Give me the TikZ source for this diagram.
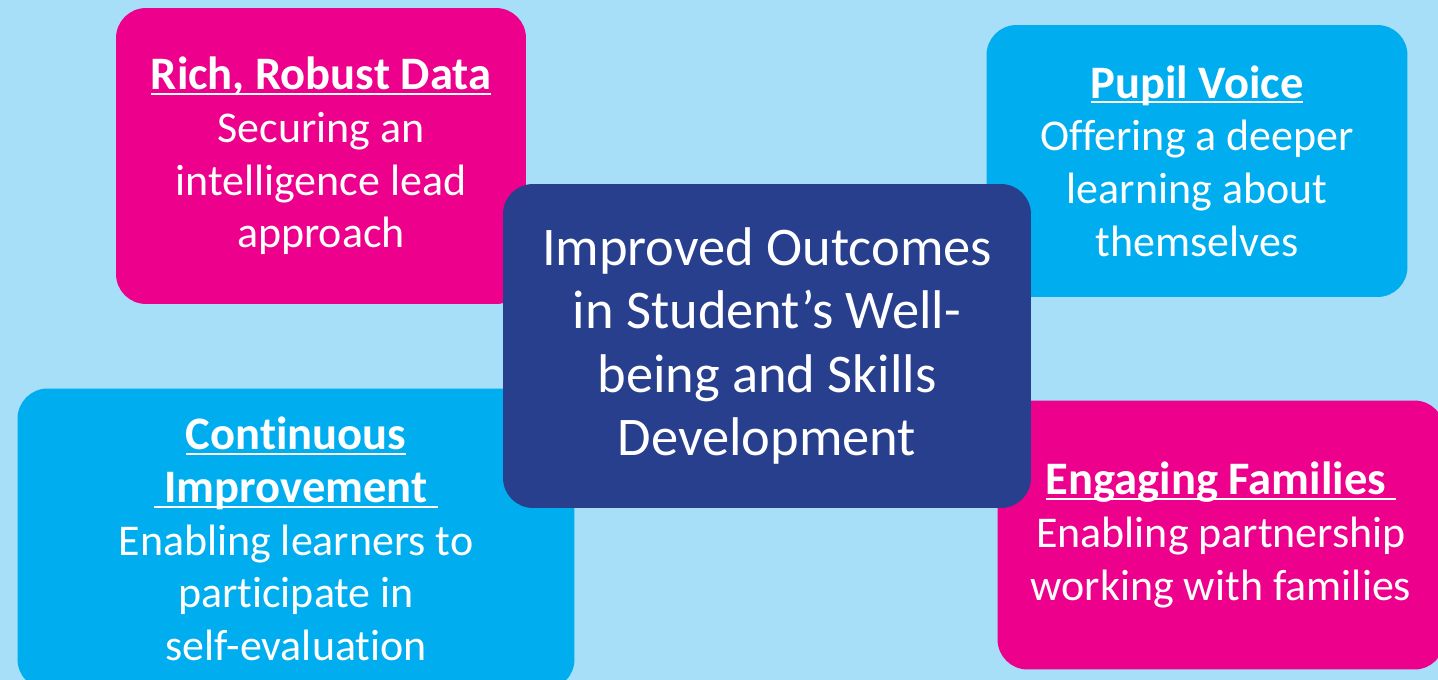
\documentclass[tikz,border=0pt]{standalone}
\usepackage{fontspec}
\setmainfont[Ligatures=NoCommon]{Carlito}
\usetikzlibrary{positioning}
\definecolor{skyback}{HTML}{A7DEF8}
\definecolor{hotpink}{HTML}{EC008C}
\definecolor{brightcyan}{HTML}{00AEEF}
\definecolor{deepnavy}{HTML}{283F8E}
% bold heading with a thin rule just under the baseline
\newcommand{\boxhead}[1]{\setbox0\hbox{\fontsize{26.5}{30}\selectfont\bfseries #1}\rlap{\rule[-3pt]{\wd0}{1.1pt}}\box0}

\begin{document}
\begin{tikzpicture}[
        x=0.02cm, y=-0.02cm,
        every node/.style={rectangle, rounded corners=0.6cm, text=white, align=center,
          inner sep=0pt, font=\fontsize{25}{30}\selectfont},
        pinkbox/.style={fill=hotpink},
        cyanbox/.style={fill=brightcyan},
        mainbox/.style={fill=deepnavy, font=\fontsize{31}{36}\selectfont},
      ]
      \fill[skyback] (0,0) rectangle (1438,680);
      \clip (0,0) rectangle (1438,680);
      \node[pinkbox, minimum width=8.2cm, minimum height=5.92cm] (data) at (321,156)
        {\boxhead{Rich, Robust Data}\\ Securing an\\ intelligence lead\\ approach};
      \node[cyanbox, minimum width=8.42cm, minimum height=5.44cm] (voice) at (1197,161)
        {\boxhead{Pupil Voice}\\ Offering a deeper\\ learning about\\ themselves};
      \node[cyanbox, minimum width=11.14cm, minimum height=6.02cm] (improve) at (296,539)
        {\boxhead{Continuous}\\ \boxhead{~Improvement~}\\ Enabling learners to\\ participate in\\ self-evaluation};
      \node[pinkbox, minimum width=8.94cm, minimum height=5.38cm] (families) at (1221,535)
        {\boxhead{Engaging Families~}\\ Enabling partnership\\ working with families};
      \node[mainbox, minimum width=10.56cm, minimum height=6.48cm] (outcomes) at (767,346)
        {Improved Outcomes\\ in Student's Well-\\ being and Skills\\ Development};
    \end{tikzpicture}
\end{document}
